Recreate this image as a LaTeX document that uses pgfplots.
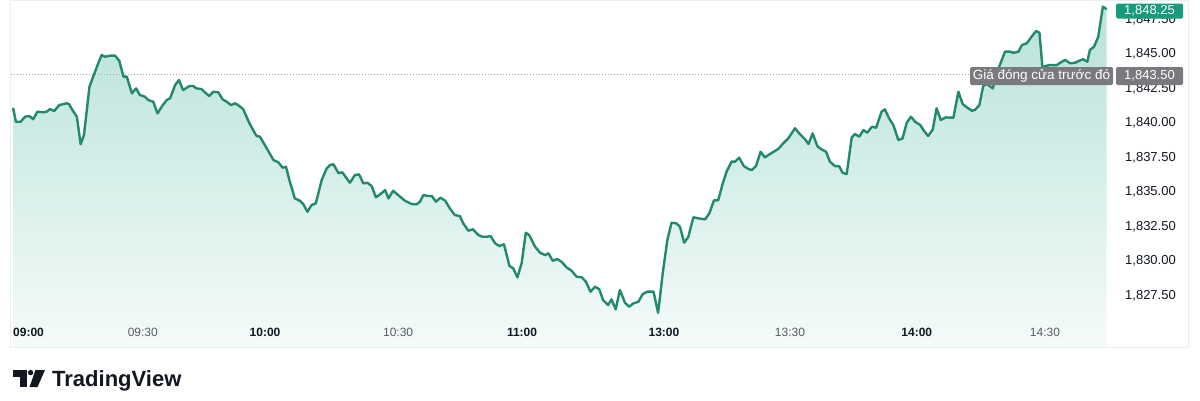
\documentclass[border=0pt]{standalone}
\usepackage{pgfplots}
\usepackage{pgfplotstable}
\pgfplotsset{compat=1.18}
\usepackage{fontspec}
\setmainfont{Liberation Sans}

\definecolor{tvline}{RGB}{34,137,110}
\definecolor{tvtop}{RGB}{184,226,216}
\definecolor{tvbot}{RGB}{245,251,250}
\definecolor{tvtag}{RGB}{24,154,124}
\definecolor{tvgray}{RGB}{122,122,126}
\definecolor{tvtext}{RGB}{19,23,34}
\definecolor{tvsub}{RGB}{90,92,100}
\definecolor{tvborder}{RGB}{236,238,242}

% minutes of trading since 09:00 (lunch break squeezed out), index points
\pgfplotstableread{
t p
0.0 1841.11
0.7 1840.09
1.8 1840.09
2.9 1840.46
3.9 1840.51
4.8 1840.27
5.8 1840.82
7.2 1840.78
8.0 1840.82
8.8 1841.01
9.8 1840.87
11.0 1841.30
12.8 1841.43
13.3 1841.38
14.4 1840.82
15.2 1840.46
16.1 1838.46
16.9 1839.13
18.2 1842.63
19.1 1843.36
20.3 1844.33
21.1 1844.93
21.9 1844.80
23.1 1844.88
24.3 1844.88
25.3 1844.51
26.3 1843.36
27.1 1843.36
28.3 1842.15
29.3 1842.51
30.2 1842.03
31.4 1841.91
32.2 1841.67
33.4 1841.54
34.4 1840.70
35.4 1841.18
36.6 1841.67
37.4 1841.79
38.6 1842.75
39.5 1843.12
40.5 1842.39
42.0 1842.68
42.9 1842.68
43.7 1842.51
44.9 1842.46
45.7 1842.22
46.7 1841.96
47.7 1842.27
48.9 1842.22
49.9 1841.72
50.9 1841.54
51.9 1841.30
52.9 1841.43
53.9 1841.23
54.8 1841.01
56.3 1839.98
57.4 1839.37
58.0 1839.06
58.8 1839.01
60.4 1838.17
62.0 1837.32
63.2 1837.15
64.2 1836.76
65.0 1836.83
65.8 1835.87
67.1 1834.54
68.3 1834.37
69.1 1834.13
70.1 1833.57
71.1 1834.06
72.1 1834.18
73.5 1835.87
74.7 1836.72
75.5 1836.96
76.3 1837.01
77.5 1836.36
78.4 1836.43
80.2 1835.67
81.4 1836.23
82.4 1836.28
83.4 1835.63
84.4 1835.67
85.4 1835.43
86.4 1834.62
87.4 1834.83
88.6 1835.14
89.4 1834.54
90.5 1835.09
91.7 1834.78
93.3 1834.37
94.9 1834.13
96.1 1834.11
96.9 1834.30
97.7 1834.78
98.9 1834.71
99.7 1834.71
100.7 1834.30
101.8 1834.59
102.9 1834.37
104.0 1833.82
105.2 1833.33
106.4 1833.26
107.2 1832.73
108.4 1832.20
109.5 1832.30
110.8 1831.88
111.8 1831.76
112.8 1831.76
113.7 1831.81
114.8 1831.28
115.8 1831.09
116.9 1831.21
118.2 1829.64
119.1 1829.47
120.1 1828.82
121.1 1829.83
122.1 1832.05
122.9 1831.88
124.3 1831.04
125.5 1830.60
126.7 1830.43
127.5 1830.56
128.5 1830.02
129.6 1830.14
130.6 1829.95
131.8 1829.54
133.0 1829.30
134.2 1828.86
135.4 1828.82
136.4 1828.50
137.5 1827.78
138.6 1828.14
139.6 1827.95
140.5 1827.17
141.7 1826.81
142.5 1827.22
143.5 1826.50
144.5 1827.90
145.7 1826.98
146.7 1826.69
147.7 1826.93
148.9 1827.05
149.9 1827.59
151.0 1827.78
152.5 1827.78
153.6 1826.25
154.8 1829.35
155.8 1831.52
156.8 1832.78
157.9 1832.73
158.8 1832.49
159.8 1831.33
160.8 1831.76
162.0 1833.17
163.2 1833.09
164.8 1833.02
165.8 1833.46
166.9 1834.40
167.9 1834.40
169.0 1835.63
169.9 1836.47
171.1 1837.20
171.9 1837.20
172.9 1837.49
174.0 1836.88
175.1 1836.67
175.9 1836.59
176.9 1836.88
178.0 1837.92
179.0 1837.51
180.2 1837.75
182.2 1838.12
183.4 1838.53
184.6 1838.89
186.2 1839.62
187.4 1839.18
188.6 1838.82
189.4 1838.48
190.4 1839.25
191.5 1838.33
192.5 1838.09
193.6 1837.92
194.5 1837.20
195.7 1836.88
196.7 1836.88
197.5 1836.40
198.5 1836.30
199.7 1838.96
200.5 1839.20
201.5 1839.01
202.5 1839.49
203.4 1839.30
204.5 1839.73
205.5 1839.66
206.8 1840.82
207.6 1840.99
208.6 1840.34
209.6 1839.86
210.8 1838.77
211.8 1838.89
212.8 1840.02
213.8 1840.46
214.8 1840.09
216.0 1839.86
216.9 1839.44
217.9 1839.06
219.0 1839.54
219.9 1841.07
220.9 1840.22
222.1 1840.41
223.9 1840.38
225.1 1842.27
226.1 1841.38
227.1 1841.14
228.3 1840.89
229.0 1840.94
230.1 1841.30
231.0 1842.68
231.9 1842.83
233.3 1842.51
234.5 1843.84
236.2 1845.17
237.4 1845.17
238.2 1845.09
239.4 1845.17
240.2 1845.65
241.4 1845.78
242.5 1846.25
243.6 1846.67
244.4 1846.54
245.1 1844.06
246.7 1844.20
247.7 1844.20
248.5 1844.20
249.7 1844.44
250.5 1844.57
251.7 1844.33
252.9 1844.37
253.7 1844.49
254.8 1844.62
255.8 1844.44
256.4 1845.29
257.4 1845.53
258.4 1846.25
259.5 1848.43
260.4 1848.25
}\pricedata

\begin{document}
\begin{tikzpicture}[x=1pt,y=1pt]
\path[use as bounding box] (0,0) rectangle (1200,-400);
\fill[white] (0,0) rectangle (1200,-400);
\draw[tvborder, line width=1pt] (10.5,-0.5) rectangle (1188,-347);

\begin{axis}[
  at={(11pt,-347pt)}, anchor=south west,
  width=1101pt, height=345pt, scale only axis,
  axis on top,
  xmin=-0.48, xmax=261.67,
  ymin=1823.77, ymax=1848.77,
  axis line style={draw=none},
  major tick length=0pt,
  xtick={3.7,30.9,60,91.7,121.2,155,185,215.2,245.7},
  xticklabels={\textbf{09:00},\textcolor{tvsub}{09:30},\textbf{10:00},\textcolor{tvsub}{10:30},\textbf{11:00},\textbf{13:00},\textcolor{tvsub}{13:30},\textbf{14:00},\textcolor{tvsub}{14:30}},
  xticklabel style={anchor=center, yshift=15pt, font=\fontsize{12}{12}\selectfont, text=tvtext},
  ytick={1827.5,1830,1832.5,1835,1837.5,1840,1842.5,1845,1847.5},
  yticklabel pos=right,
  yticklabel style={anchor=west, inner sep=0pt, xshift=13pt, font=\fontsize{13}{13}\selectfont, text=tvtext},
  /pgf/number format/.cd, fixed, fixed zerofill, precision=2, 1000 sep={,}, assume math mode=true,
]
\addplot[draw=none, top color=tvtop, bottom color=tvbot] table[x=t,y=p] {\pricedata}
  -- (axis cs:260.4,1823.77) -- (axis cs:0,1823.77) -- cycle;
\addplot[tvgray!70, line width=1pt, dash pattern=on 1pt off 2pt] coordinates {(-0.48,1843.5) (261.67,1843.5)};
\addplot[tvline, line width=2.4pt, line join=round, mark=none] table[x=t,y=p] {\pricedata};
\end{axis}

% price tags on the right scale
\fill[tvtag, rounded corners=1.5pt] (1116,-3.5) rectangle (1183,-18.5);
\node[text=white, font=\fontsize{13}{13}\selectfont, inner sep=0pt] at (1149.5,-11) {1,848.25};
\fill[tvgray, rounded corners=1.5pt] (970,-67) rectangle (1113,-85);
\node[text=white, font=\fontsize{13.5}{13.5}\selectfont, inner sep=0pt] at (1041.5,-76) {Giá đóng cửa trước đó};
\fill[tvgray, rounded corners=1.5pt] (1116,-67) rectangle (1183,-85);
\node[text=white, font=\fontsize{13}{13}\selectfont, inner sep=0pt] at (1149.5,-76) {1,843.50};

% TradingView logo
\fill[tvtext] (13,-370) rectangle (27,-377);
\fill[tvtext] (20,-370) rectangle (27,-387);
\fill[tvtext] (30.6,-372.6) circle (2.7);
\fill[tvtext] (35.5,-370) -- (45,-370) -- (37.5,-387) -- (29.5,-387) -- cycle;
\node[anchor=base west, inner sep=0pt, text=tvtext, font=\fontsize{22}{22}\selectfont\bfseries] at (52,-386.7) {TradingView};
\end{tikzpicture}
\end{document}
